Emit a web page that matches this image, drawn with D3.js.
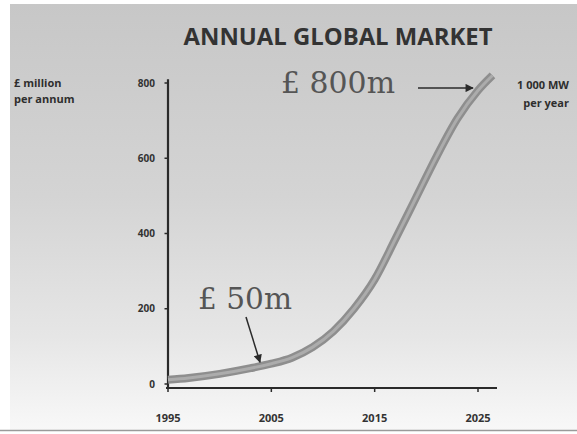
<!DOCTYPE html>
<html>
<head>
<meta charset="utf-8">
<script src="https://cdn.jsdelivr.net/npm/d3@7"></script>
<style>
  html, body { margin: 0; padding: 0; background: #ffffff; }
  svg { display: block; }
</style>
</head>
<body>
<script>
// Annual global market, £ million per annum
const years  = [1995, 1997, 2000, 2003, 2005, 2007, 2009, 2011, 2013, 2015, 2017, 2019, 2021, 2023, 2025, 2026.4];
const values = [11, 16, 27, 42, 54, 70, 98, 140, 200, 278, 385, 495, 605, 705, 780, 820];
const yTicks = [0, 200, 400, 600, 800];
const xTicks = [1995, 2005, 2015, 2025];
const xTickLabels = ["1995", "2005", "2015", "2025"];
const title = "ANNUAL GLOBAL MARKET";
const yUnit = ["£ million", "per annum"];
const endNote = ["1 000 MW", "per year"];
const callouts = [
  { text: "£ 800m", value: 800 },
  { text: "£ 50m", value: 50 }
];

const W = 577, H = 434;
const svg = d3.select("body").append("svg").attr("width", W).attr("height", H);

const defs = svg.append("defs");
const bg = defs.append("linearGradient").attr("id", "bg").attr("x1", 0).attr("y1", 0).attr("x2", 0).attr("y2", 1);
bg.append("stop").attr("offset", "0%").attr("stop-color", "#c7c7c7");
bg.append("stop").attr("offset", "45%").attr("stop-color", "#d4d4d4");
bg.append("stop").attr("offset", "78%").attr("stop-color", "#e6e6e6");
bg.append("stop").attr("offset", "100%").attr("stop-color", "#f8f8f8");

const mk = defs.append("marker").attr("id", "head")
  .attr("viewBox", "0 0 10 10").attr("refX", 9).attr("refY", 5)
  .attr("markerWidth", 6).attr("markerHeight", 5.5).attr("orient", "auto")
  .attr("markerUnits", "strokeWidth");
mk.append("path").attr("d", "M0,0 L10,5 L0,10 Z").attr("fill", "#2a2a2a");

// panel
svg.append("rect").attr("x", 10).attr("y", 4).attr("width", W - 10).attr("height", 426).attr("fill", "url(#bg)");
svg.append("line").attr("x1", 0).attr("x2", W).attr("y1", 430.5).attr("y2", 430.5)
  .attr("stroke", "#9a9a9a").attr("stroke-width", 1.5);

const x = d3.scaleLinear().domain([1995, 2025]).range([168, 478]);
const y = d3.scaleLinear().domain([0, 800]).range([384, 83]);

// title
const t = svg.append("text").attr("x", 338).attr("y", 45).attr("text-anchor", "middle")
  .attr("font-family", "Open Sans, sans-serif").attr("font-weight", 700)
  .attr("font-size", 24).attr("fill", "#333").text(title);
const tw = t.node().getComputedTextLength();
t.attr("font-size", 24 * 309 / tw);

// axes
const axisColor = "#2a2a2a";
svg.append("line").attr("x1", x(1995)).attr("x2", x(1995)).attr("y1", y(810)).attr("y2", 388)
  .attr("stroke", axisColor).attr("stroke-width", 2.2);
svg.append("line").attr("x1", x(1995) - 2).attr("x2", 497).attr("y1", 388).attr("y2", 388)
  .attr("stroke", axisColor).attr("stroke-width", 2.2);

const tickFont = "Open Sans, sans-serif";
svg.selectAll(".yt").data(yTicks).enter().append("line")
  .attr("x1", x(1995) - 3.5).attr("x2", x(1995)).attr("y1", d => y(d)).attr("y2", d => y(d))
  .attr("stroke", axisColor).attr("stroke-width", 1.5);
svg.selectAll(".yl").data(yTicks).enter().append("text")
  .attr("x", 155).attr("y", d => y(d)).attr("dy", "0.35em").attr("text-anchor", "end")
  .attr("font-family", tickFont).attr("font-weight", 700).attr("font-size", 10)
  .attr("fill", "#333").text(d => d);

svg.selectAll(".xt").data(xTicks).enter().append("line")
  .attr("x1", d => x(d)).attr("x2", d => x(d)).attr("y1", 388).attr("y2", 392)
  .attr("stroke", axisColor).attr("stroke-width", 1.5);
svg.selectAll(".xl").data(xTicks).enter().append("text")
  .attr("x", d => x(d)).attr("y", 418).attr("dy", "0.35em").attr("text-anchor", "middle")
  .attr("font-family", tickFont).attr("font-weight", 700).attr("font-size", 11)
  .attr("fill", "#333").text((d, i) => xTickLabels[i]);

// unit labels
svg.selectAll(".yu").data(yUnit).enter().append("text")
  .attr("x", 14).attr("y", (d, i) => 83 + i * 16).attr("dy", "0.35em")
  .attr("font-family", tickFont).attr("font-weight", 700).attr("font-size", 11)
  .attr("fill", "#2e2e2e").text(d => d);
svg.selectAll(".en").data(endNote).enter().append("text")
  .attr("x", 569).attr("y", (d, i) => 85 + i * 18).attr("dy", "0.35em").attr("text-anchor", "end")
  .attr("font-family", tickFont).attr("font-weight", 700).attr("font-size", 11)
  .attr("fill", "#2e2e2e").text(d => d);

// market curve
const pts = years.map((yr, i) => [yr, values[i]]);
const line = d3.line().x(d => x(d[0])).y(d => y(d[1])).curve(d3.curveMonotoneX);
svg.append("path").attr("d", line(pts)).attr("fill", "none")
  .attr("stroke", "#8e8e8e").attr("stroke-width", 8).attr("stroke-linecap", "butt");
svg.append("path").attr("d", line(pts)).attr("fill", "none")
  .attr("stroke", "#acacac").attr("stroke-width", 3).attr("stroke-linecap", "butt");

// callouts
const serif = "DejaVu Serif, Liberation Serif, serif";
function callout(txt, x0, base, targetW) {
  const el = svg.append("text").attr("x", x0).attr("y", base)
    .attr("font-family", serif).attr("font-size", 29).attr("fill", "#555").text(txt);
  el.attr("textLength", targetW).attr("lengthAdjust", "spacingAndGlyphs");
  return el;
}
callout(callouts[0].text, 281, 93, 114);
svg.append("line").attr("x1", 418).attr("y1", y(callouts[0].value) + 5).attr("x2", 473).attr("y2", y(callouts[0].value) + 5)
  .attr("stroke", "#2a2a2a").attr("stroke-width", 1.5).attr("marker-end", "url(#head)");

callout(callouts[1].text, 198, 309, 94);
svg.append("line").attr("x1", 246).attr("y1", 317).attr("x2", 260).attr("y2", y(callouts[1].value) - 3)
  .attr("stroke", "#2a2a2a").attr("stroke-width", 1.5).attr("marker-end", "url(#head)");
</script>
</body>
</html>
